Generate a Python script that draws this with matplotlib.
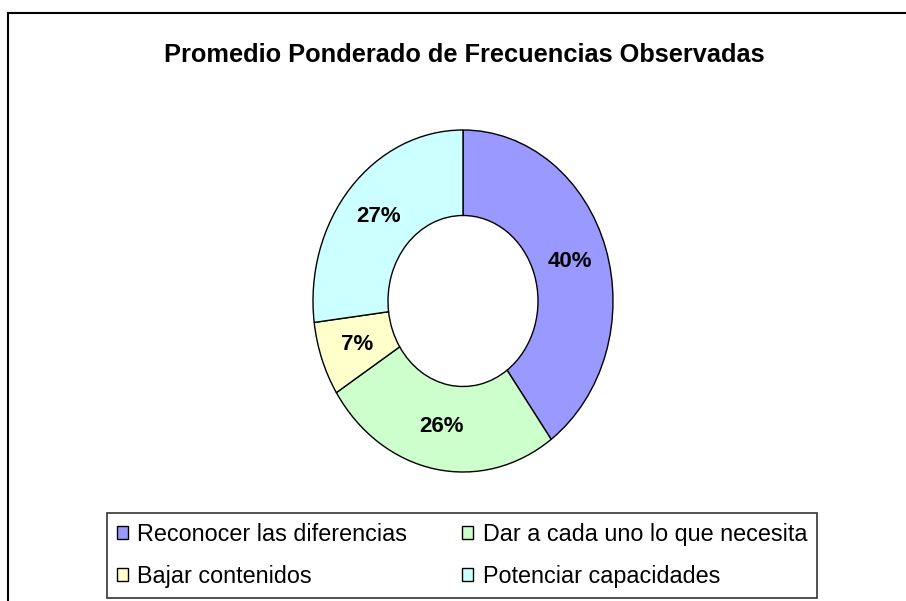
import matplotlib.pyplot as plt
from matplotlib import font_manager
from matplotlib.lines import Line2D

# ── Data ──────────────────────────────────────────────────────────────────────
TITLE      = "Promedio Ponderado de Frecuencias Observadas"
CATEGORIES = ["Reconocer las diferencias", "Dar a cada uno lo que necesita",
              "Bajar contenidos", "Potenciar capacidades"]
VALUES     = [40, 26, 7, 27]
COLORS     = ["#9999FF", "#CCFFCC", "#FFFFCC", "#CCFFFF"]

W, H = 906, 601
plt.rcParams["font.family"] = ["Liberation Sans", "DejaVu Sans"]

# narrow face if the system has it, otherwise plain Liberation Sans
try:
    font_manager.findfont("Liberation Sans Narrow", fallback_to_default=False)
    NARROW, LEG_SIZE, TITLE_SIZE = "Liberation Sans Narrow", 20.6, 21.5
except ValueError:
    NARROW, LEG_SIZE, TITLE_SIZE = "Liberation Sans", 16.8, 18.3

fig = plt.figure(figsize=(W / 100, H / 100), dpi=100)

# ── Outer chart frame (right / bottom edges fall outside the image) ──────────
fx, fy = 7.5 / W, 1 - 13 / H
fig.add_artist(Line2D([fx, 1.0], [fy, fy], color="black", lw=1.5))
fig.add_artist(Line2D([fx, fx], [0.0, fy], color="black", lw=1.5))

fig.text(464 / W, 1 - 55 / H, TITLE, ha="center", va="center",
         fontsize=TITLE_SIZE, fontweight="bold", family=[NARROW, "DejaVu Sans"])

# ── Donut (slightly stretched vertically, as in the original) ────────────────
left, right, top, bottom = 313, 613, 130, 472
ax = fig.add_axes([left / W, 1 - bottom / H, (right - left) / W, (bottom - top) / H])
wedges, _, autotexts = ax.pie(
    VALUES, colors=COLORS, startangle=90, counterclock=False,
    autopct="%.0f%%", pctdistance=0.75,
    wedgeprops=dict(width=0.5, edgecolor="black", linewidth=1.0),
    textprops=dict(fontsize=16, fontweight="bold"),
)
ax.set_aspect("auto")
ax.set_xlim(-1, 1)
ax.set_ylim(-1, 1)
ax.axis("off")

# ── Legend ────────────────────────────────────────────────────────────────────
order = [0, 2, 1, 3]
leg = fig.legend(
    [wedges[i] for i in order], [CATEGORIES[i] for i in order],
    ncol=2, loc="upper left", bbox_to_anchor=(107 / W, 1 - 513 / H),
    borderaxespad=0, prop=dict(family=[NARROW, "DejaVu Sans"], size=LEG_SIZE),
    frameon=True, fancybox=False, edgecolor="black",
    handlelength=0.46, handleheight=0.46, handletextpad=0.42,
    columnspacing=2.35, labelspacing=0.82, borderpad=0.42,
)
leg.get_frame().set_linewidth(1.2)
for h in leg.legend_handles:
    h.set_linewidth(1.0)

fig.savefig("out.png", dpi=100)
